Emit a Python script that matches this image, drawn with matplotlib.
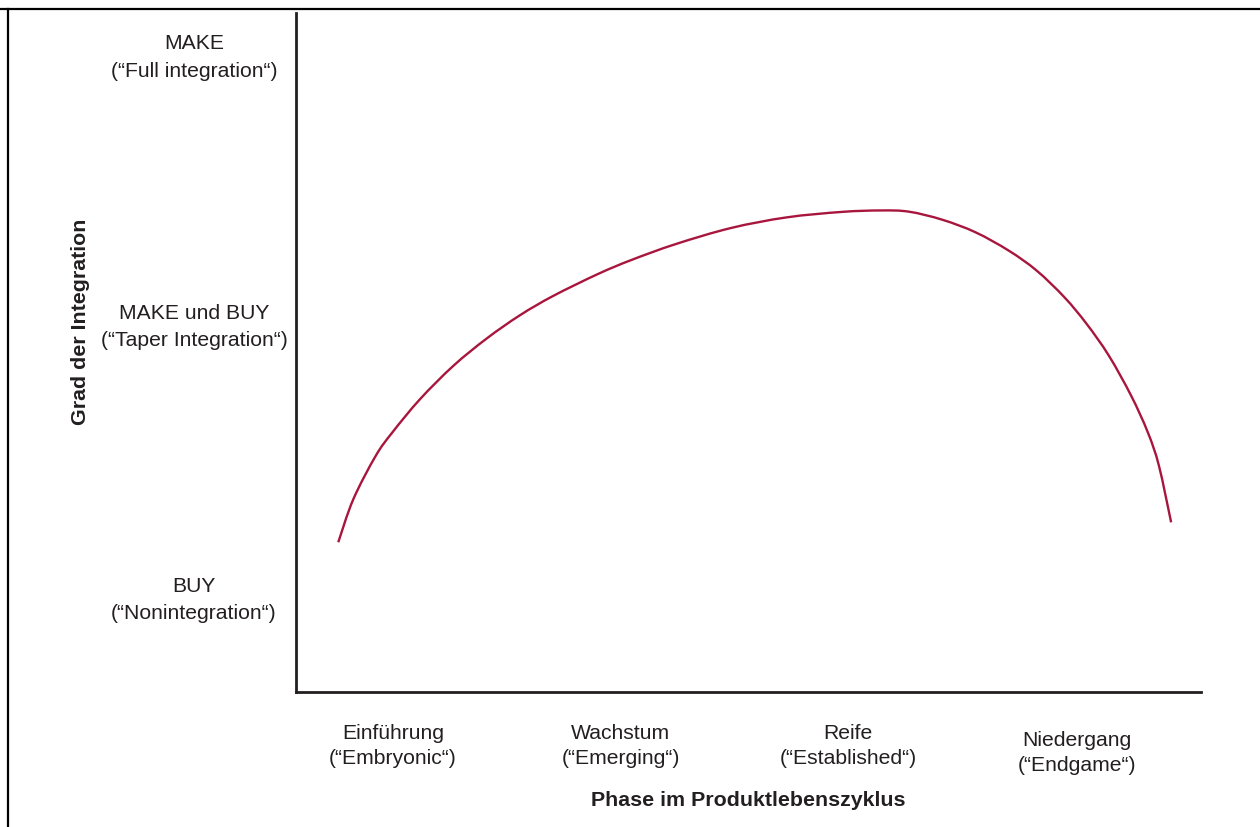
"""
plot.py - Integrationsgrad ueber den Produktlebenszyklus (Make-or-Buy Kurve).
"""
import matplotlib
matplotlib.use("Agg")
import matplotlib.pyplot as plt
import numpy as np
from matplotlib.lines import Line2D
from matplotlib.path import Path
from matplotlib.patches import PathPatch

# ── data (0..100 on both axes) ──────────────────────────────────────────────
PHASE_X = [4.67, 6.33, 8.80, 10.63, 13.70, 17.38, 21.07, 24.75, 28.43, 33.35,
           37.03, 41.94, 48.08, 54.22, 60.35, 64.65, 67.72, 71.40, 75.09,
           78.77, 81.85, 84.91, 87.37, 89.82, 92.28, 94.12, 95.35, 96.70]
INTEGRATION_Y = [22.05, 28.38, 34.76, 38.20, 43.12, 48.03, 52.06, 55.49, 58.34,
                 61.55, 63.61, 65.96, 68.34, 69.90, 70.71, 70.92, 70.74, 69.56,
                 67.70, 64.99, 62.05, 58.13, 54.20, 49.53, 43.64, 38.25, 33.33,
                 24.99]

PHASE_POS = [10.7, 35.9, 61.0, 86.3]
PHASE_LABELS = ["Einführung\n(“Embryonic“)", "Wachstum\n(“Emerging“)",
                "Reife\n(“Established“)", "Niedergang\n(“Endgame“)"]
PHASE_DY = [0, 0, 0, -7]          # pixel offset (Niedergang sits a bit lower)

LEVEL_POS = [93.6, 53.9, 13.7]
LEVEL_LABELS = ["MAKE\n(“Full integration“)", "MAKE und BUY\n(“Taper Integration“)",
                "BUY\n(“Nonintegration“)"]

INK, RED = "#231f20", "#a8163d"
FONT = ["Liberation Sans", "Arial", "DejaVu Sans"]

plt.rcParams["font.family"] = FONT


def smooth_path(xs, ys):
    """Catmull-Rom through the points, drawn as cubic bezier segments."""
    p = np.column_stack([xs, ys])
    ext = np.vstack([p[0], p, p[-1]])
    verts, codes = [p[0]], [Path.MOVETO]
    for i in range(1, len(ext) - 2):
        p0, p1, p2, p3 = ext[i - 1], ext[i], ext[i + 1], ext[i + 2]
        verts += [p1 + (p2 - p0) / 6, p2 - (p3 - p1) / 6, p2]
        codes += [Path.CURVE4] * 3
    return Path(verts, codes)


W, H = 1260, 828
fig = plt.figure(figsize=(W / 100, H / 100), dpi=100)
ax = fig.add_axes([296 / W, (H - 693) / H, 905 / W, 679 / H])

ax.add_patch(PathPatch(smooth_path(PHASE_X, INTEGRATION_Y), facecolor="none",
                       edgecolor=RED, linewidth=1.7, capstyle="butt"))
ax.set_xlim(0, 100)
ax.set_ylim(0, 100)

for side in ("top", "right"):
    ax.spines[side].set_visible(False)
for side in ("left", "bottom"):
    ax.spines[side].set_color(INK)
    ax.spines[side].set_linewidth(2.0)
ax.set_xticks([])
ax.set_yticks([])

# category labels
for x, lab, dy in zip(PHASE_POS, PHASE_LABELS, PHASE_DY):
    ax.annotate(lab, xy=(x, 0), xycoords="data", xytext=(0, -53 + dy),
                textcoords="offset pixels", ha="center", va="center",
                fontsize=15.2, color=INK, linespacing=1.44, annotation_clip=False)

for y, lab in zip(LEVEL_POS, LEVEL_LABELS):
    ax.annotate(lab, xy=(0, y), xycoords="data", xytext=(-102, 0),
                textcoords="offset pixels", ha="center", va="center",
                fontsize=15.2, color=INK, linespacing=1.56, annotation_clip=False)

# axis titles
fig.text(748 / W, 1 - 801 / H, "Phase im Produktlebenszyklus", ha="center",
         va="center", fontsize=15.4, fontweight="bold", color=INK)
fig.text(80 / W, 1 - 322 / H, "Grad der Integration", ha="center", va="center",
         rotation=90, fontsize=15.4, fontweight="bold", color=INK)

# outer frame (top + left only)
fig.add_artist(Line2D([0, 1], [1 - 10 / H, 1 - 10 / H], transform=fig.transFigure,
                      color="black", linewidth=1.6))
fig.add_artist(Line2D([8 / W, 8 / W], [0, 1 - 10 / H], transform=fig.transFigure,
                      color="black", linewidth=1.6))

fig.savefig("out.png", dpi=100, facecolor="white")
